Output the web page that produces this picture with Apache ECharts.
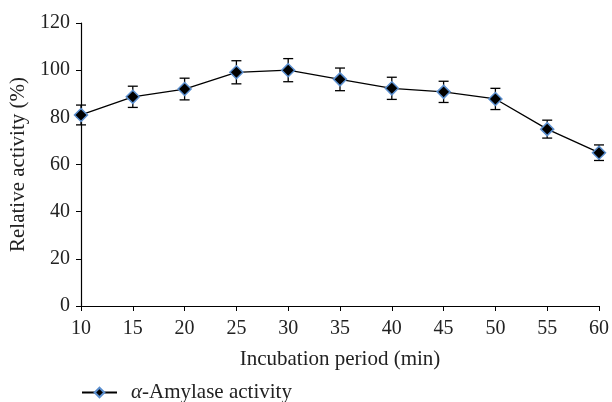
<!DOCTYPE html>
<html>
<head>
<meta charset="utf-8">
<script src="https://cdn.jsdelivr.net/npm/echarts@6/dist/echarts.min.js"></script>
<style>
  html, body { margin: 0; padding: 0; background: #fff; }
  #chart { width: 612px; height: 402px; }
</style>
</head>
<body>
<div id="chart"></div>
<script>
const periods = [10, 15, 20, 25, 30, 35, 40, 45, 50, 55, 60];
const activity = [81, 88.7, 92, 99.1, 100, 96.1, 92.3, 90.8, 87.8, 75, 65];
const errors = [4.2, 4.5, 4.6, 4.9, 4.9, 4.8, 4.7, 4.5, 4.5, 3.8, 3.3];
const yTicks = [0, 20, 40, 60, 80, 100, 120];

const font = "Liberation Serif";
const chart = echarts.init(document.getElementById("chart"));

const option = {
  animation: false,
  textStyle: { fontFamily: font },
  grid: { left: 81, right: 13, top: 23, bottom: 96 },
  legend: {
    left: 81,
    top: 382,
    padding: 0,
    itemWidth: 35,
    itemHeight: 12,
    data: ["amylase"],
    formatter: function () {
      return "{i|α}-Amylase activity";
    },
    textStyle: {
      fontFamily: font,
      fontSize: 21,
      color: "#222",
      rich: {
        i: { fontFamily: font, fontStyle: "italic", fontSize: 21, color: "#222", padding: [0, 0, 0, 9] }
      }
    }
  },
  xAxis: {
    type: "value",
    min: 10,
    max: 60,
    interval: 5,
    name: "Incubation period (min)",
    nameLocation: "middle",
    nameGap: 43,
    nameTextStyle: { fontFamily: font, fontSize: 21, color: "#222" },
    axisLine: { lineStyle: { color: "#000", width: 1.2 } },
    axisTick: { show: true, length: 5, inside: false, lineStyle: { color: "#000" } },
    axisLabel: { fontFamily: font, fontSize: 20, color: "#222", margin: 13 },
    splitLine: { show: false }
  },
  yAxis: {
    type: "value",
    min: yTicks[0],
    max: yTicks[yTicks.length - 1],
    interval: 20,
    name: "Relative activity (%)",
    nameLocation: "middle",
    nameGap: 48,
    nameTextStyle: { fontFamily: font, fontSize: 21, color: "#222" },
    axisLine: { show: true, lineStyle: { color: "#000", width: 1.2 } },
    axisTick: { show: true, length: 5, lineStyle: { color: "#000" } },
    axisLabel: { fontFamily: font, fontSize: 20, color: "#222", margin: 11 },
    splitLine: { show: false }
  },
  series: [
    {
      name: "errors",
      type: "custom",
      silent: true,
      z: 1,
      data: periods.map((p, i) => [p, activity[i] - errors[i], activity[i] + errors[i]]),
      renderItem: function (params, api) {
        const lo = api.coord([api.value(0), api.value(1)]);
        const hi = api.coord([api.value(0), api.value(2)]);
        const w = 5;
        const st = { stroke: "#000", lineWidth: 1.3 };
        return {
          type: "group",
          children: [
            { type: "line", shape: { x1: lo[0], y1: lo[1], x2: hi[0], y2: hi[1] }, style: st },
            { type: "line", shape: { x1: lo[0] - w, y1: lo[1], x2: lo[0] + w, y2: lo[1] }, style: st },
            { type: "line", shape: { x1: hi[0] - w, y1: hi[1], x2: hi[0] + w, y2: hi[1] }, style: st }
          ]
        };
      }
    },
    {
      name: "amylase",
      type: "line",
      z: 3,
      data: periods.map((p, i) => [p, activity[i]]),
      symbol: "diamond",
      symbolSize: 13,
      lineStyle: { color: "#000", width: 1.3 },
      itemStyle: { color: "#000", borderColor: "#5b8fcf", borderWidth: 1.5 }
    }
  ]
};

chart.setOption(option);
</script>
</body>
</html>
